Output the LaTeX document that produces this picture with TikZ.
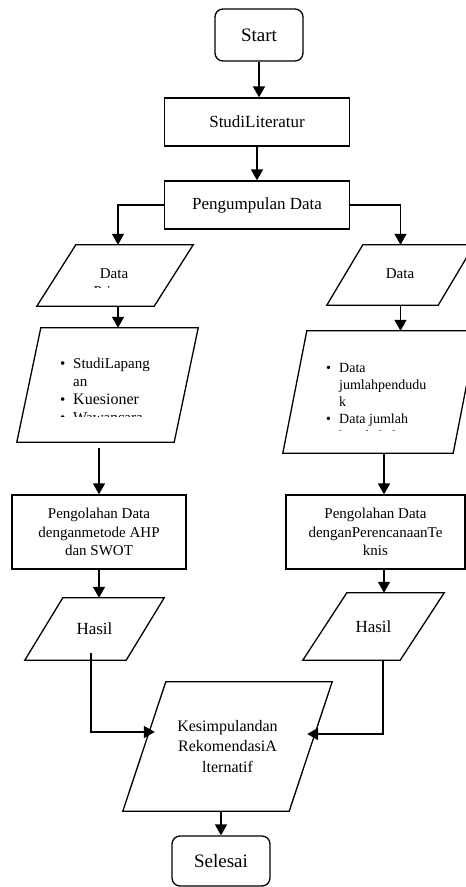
\documentclass[tikz,border=0pt]{standalone}
\usepackage{fontspec}
\setmainfont{Liberation Serif}
\usetikzlibrary{arrows.meta}

% slanted outline round an (invisible) io node
\newcommand{\slantbox}[2]{%
  \draw[line width=1.3pt] ([xshift=#2]#1.north west) -- ([xshift=#2]#1.north east)
    -- ([xshift=-#2]#1.south east) -- ([xshift=-#2]#1.south west) -- cycle;}

\begin{document}
\begin{tikzpicture}[x=1pt, y=-1pt,
	box/.style={draw, line width=1.3pt, align=center},
	term/.style={box, rounded corners=8pt, font=\fontsize{19}{22}\selectfont},
	proc/.style={box, font=\fontsize{17}{20}\selectfont},
	olah/.style={box, font=\fontsize{15}{18.5}\selectfont},
	io/.style={inner sep=0pt, align=center, font=\fontsize{17}{20}\selectfont},
	txt/.style={inner sep=0pt, font=\fontsize{15}{18}\selectfont},
	flow/.style={line width=1.4pt, -{Triangle[length=11pt,width=12pt]}}]
		\useasboundingbox (0,0) rectangle (466,887);
		% main column
		\node[term, minimum width=88pt, minimum height=52pt] (start) at (259,35) {Start};
		\node[proc, minimum width=185pt, minimum height=48pt] (lit) at (257,122) {StudiLiteratur};
		\node[proc, minimum width=185pt, minimum height=48pt] (kumpul) at (257,205) {Pengumpulan Data};
		% left branch
		\node[io, minimum width=117pt, minimum height=61pt] (dataL) at (115,275.5) {};
		\slantbox{dataL}{19.5pt}
		\begin{scope}
		  \clip (0,250) rectangle (466,287.5);
		  \node[txt, anchor=north, align=center] (dataLtext) at (114,268) {Data\\Primer};
		\end{scope}
		\node[io, minimum width=157pt, minimum height=114pt] (listL) at (107.5,385) {};
		\slantbox{listL}{12pt}
		\begin{scope}
		  \clip (0,330) rectangle (466,416);
		  \node[txt, anchor=north west, align=left] (listLtext) at (60,358)
		    {\makebox[13pt][l]{\textbullet}StudiLapang\\
		     \hspace*{13pt}an\\
		     \makebox[13pt][l]{\textbullet}{\fontsize{16}{18}\selectfont Kuesioner}\\
		     \makebox[13pt][l]{\textbullet}Wawancara};
		\end{scope}
		\node[olah, minimum width=174pt, minimum height=74pt] (olahL) at (99,532) {Pengolahan Data\\denganmetode AHP\\dan SWOT};
		\node[io, minimum width=101pt, minimum height=62pt] (hasilL) at (94.5,629) {Hasil};
		\slantbox{hasilL}{19pt}
		% right branch
		\node[io, minimum width=111pt, minimum height=60pt] (dataR) at (400.5,275) {};
		\slantbox{dataR}{18pt}
		\begin{scope}
		  \clip (0,250) rectangle (466,283);
		  \node[txt, anchor=north, align=center] (dataRtext) at (400,268) {Data\\Sekunder};
		\end{scope}
		\node[io, minimum width=170pt, minimum height=122pt] (listR) at (380,392) {};
		\slantbox{listR}{12pt}
		\begin{scope}
		  \clip (0,335) rectangle (466,430.5);
		  \node[txt, anchor=north west, align=left, font=\fontsize{14}{17}\selectfont] (listRtext) at (326,363)
		    {\makebox[13pt][l]{\textbullet}Data\\
		     \hspace*{13pt}jumlahpendudu\\
		     \hspace*{13pt}k\\
		     \makebox[13pt][l]{\textbullet}Data jumlah\\
		     \hspace*{13pt}kepala keluarga};
		\end{scope}
		\node[olah, minimum width=179pt, minimum height=74pt] (olahR) at (375.5,532) {Pengolahan Data\\denganPerencanaanTe\\knis};
		\node[io, minimum width=97pt, minimum height=67pt] (hasilR) at (373.5,626.5) {Hasil};
		\slantbox{hasilR}{22pt}
		% bottom
		\node[io, minimum width=166pt, minimum height=129pt, font=\fontsize{16}{20.5}\selectfont] (simpul) at (227.5,746.5) {Kesimpulandan\\RekomendasiA\\lternatif};
		\slantbox{simpul}{21.5pt}
		\node[term, minimum width=98pt, minimum height=50pt] (selesai) at (221,861) {Selesai};
		% connectors
		\draw[flow] (start.south) -- (start.south |- lit.north);
		\draw[flow] (lit.south) -- (kumpul.north);
		\draw[flow] (kumpul.west) -| ([xshift=3pt]dataL.north);
		\draw[flow] (kumpul.east) -| (dataR.north);
		\draw[flow] ([xshift=3pt]dataL.south) -- ([xshift=3pt]dataL.south |- listL.north);
		\draw[flow] ([yshift=-6pt]olahL.north |- listL.south) -- (olahL.north);
		\draw[flow] (olahL.south) -- (olahL.south |- hasilL.north);
		\draw[flow] (dataR.south) -- (dataR.south |- listR.north);
		\draw[flow] ([xshift=4pt]listR.south) -- ([xshift=4pt]listR.south |- olahR.north);
		\draw[flow] ([xshift=8.5pt]olahR.south) -- ([xshift=8.5pt]olahR.south |- hasilR.north);
		\draw[flow] ([xshift=-3.5pt,yshift=7pt]hasilL.south) |- ([xshift=10.5pt,yshift=14.5pt]simpul.west);
		\draw[flow] ([xshift=9.5pt]hasilR.south) |- ([xshift=-3.5pt,yshift=12.5pt]simpul.east);
		\draw[flow] (selesai.north |- simpul.south) -- (selesai.north);
	\end{tikzpicture}
\end{document}
